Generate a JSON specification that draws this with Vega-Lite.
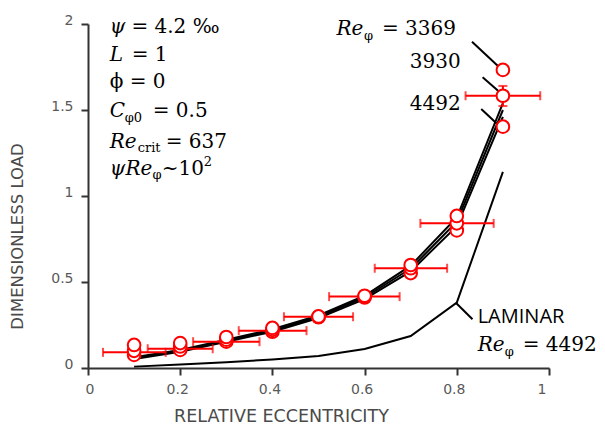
{
  "$schema": "https://vega.github.io/schema/vega-lite/v6.json",
  "width": 461,
  "height": 344,
  "autosize": {"type": "none"},
  "padding": {"left": 88, "top": 24, "right": 56, "bottom": 57},
  "background": "white",
  "config": {
    "view": {"stroke": null},
    "axis": {
      "grid": false,
      "domainColor": "#333333",
      "domainWidth": 2,
      "tickColor": "#333333",
      "tickWidth": 2,
      "tickSize": 7,
      "labelFont": "DejaVu Sans",
      "labelFontSize": 14,
      "labelColor": "#595959",
      "titleFont": "DejaVu Sans",
      "titleFontSize": 16.5,
      "titleFontWeight": "normal",
      "titleColor": "#4a4a4a"
    }
  },
  "datasets": {
    "curves": [
      {"x": 0.1, "y": 0.062, "s": "A"}, {"x": 0.2, "y": 0.105, "s": "A"}, {"x": 0.3, "y": 0.165, "s": "A"},
      {"x": 0.4, "y": 0.225, "s": "A"}, {"x": 0.5, "y": 0.305, "s": "A"}, {"x": 0.6, "y": 0.42, "s": "A"},
      {"x": 0.7, "y": 0.595, "s": "A"}, {"x": 0.8, "y": 0.875, "s": "A"}, {"x": 0.9, "y": 1.54, "s": "A"},
      {"x": 0.1, "y": 0.057, "s": "B"}, {"x": 0.2, "y": 0.1, "s": "B"}, {"x": 0.3, "y": 0.158, "s": "B"},
      {"x": 0.4, "y": 0.218, "s": "B"}, {"x": 0.5, "y": 0.298, "s": "B"}, {"x": 0.6, "y": 0.41, "s": "B"},
      {"x": 0.7, "y": 0.578, "s": "B"}, {"x": 0.8, "y": 0.85, "s": "B"}, {"x": 0.9, "y": 1.5, "s": "B"},
      {"x": 0.1, "y": 0.052, "s": "C"}, {"x": 0.2, "y": 0.095, "s": "C"}, {"x": 0.3, "y": 0.152, "s": "C"},
      {"x": 0.4, "y": 0.211, "s": "C"}, {"x": 0.5, "y": 0.29, "s": "C"}, {"x": 0.6, "y": 0.4, "s": "C"},
      {"x": 0.7, "y": 0.562, "s": "C"}, {"x": 0.8, "y": 0.825, "s": "C"}, {"x": 0.9, "y": 1.46, "s": "C"},
      {"x": 0.1, "y": 0.008, "s": "Laminar"}, {"x": 0.2, "y": 0.021, "s": "Laminar"}, {"x": 0.3, "y": 0.033, "s": "Laminar"},
      {"x": 0.4, "y": 0.05, "s": "Laminar"}, {"x": 0.5, "y": 0.07, "s": "Laminar"}, {"x": 0.6, "y": 0.11, "s": "Laminar"},
      {"x": 0.7, "y": 0.186, "s": "Laminar"}, {"x": 0.8, "y": 0.38, "s": "Laminar"}, {"x": 0.9, "y": 1.14, "s": "Laminar"}
    ],
    "points": [
      {"x": 0.1, "y": 0.076, "re": "4492"}, {"x": 0.2, "y": 0.105, "re": "4492"}, {"x": 0.3, "y": 0.153, "re": "4492"},
      {"x": 0.4, "y": 0.211, "re": "4492"}, {"x": 0.5, "y": 0.295, "re": "4492"}, {"x": 0.6, "y": 0.41, "re": "4492"},
      {"x": 0.7, "y": 0.552, "re": "4492"}, {"x": 0.8, "y": 0.8, "re": "4492"}, {"x": 0.9, "y": 1.403, "re": "4492"},
      {"x": 0.1, "y": 0.1, "re": "3930"}, {"x": 0.2, "y": 0.125, "re": "3930"}, {"x": 0.3, "y": 0.165, "re": "3930"},
      {"x": 0.4, "y": 0.222, "re": "3930"}, {"x": 0.5, "y": 0.298, "re": "3930"}, {"x": 0.6, "y": 0.415, "re": "3930"},
      {"x": 0.7, "y": 0.58, "re": "3930"}, {"x": 0.8, "y": 0.841, "re": "3930"}, {"x": 0.9, "y": 1.583, "re": "3930"},
      {"x": 0.1, "y": 0.134, "re": "3369"}, {"x": 0.2, "y": 0.145, "re": "3369"}, {"x": 0.3, "y": 0.18, "re": "3369"},
      {"x": 0.4, "y": 0.233, "re": "3369"}, {"x": 0.5, "y": 0.3, "re": "3369"}, {"x": 0.6, "y": 0.42, "re": "3369"},
      {"x": 0.7, "y": 0.599, "re": "3369"}, {"x": 0.8, "y": 0.884, "re": "3369"}, {"x": 0.9, "y": 1.733, "re": "3369"}
    ],
    "errx": [
      {"y": 0.091, "lo": 0.0325, "hi": 0.1685},
      {"y": 0.112, "lo": 0.1295, "hi": 0.2705},
      {"y": 0.153, "lo": 0.228, "hi": 0.372},
      {"y": 0.217, "lo": 0.327, "hi": 0.474},
      {"y": 0.298, "lo": 0.425, "hi": 0.575},
      {"y": 0.415, "lo": 0.523, "hi": 0.676},
      {"y": 0.58, "lo": 0.622, "hi": 0.779},
      {"y": 0.841, "lo": 0.721, "hi": 0.88},
      {"y": 1.583, "lo": 0.819, "hi": 0.981}
    ],
    "erry": [{"x": 0.9, "lo": 1.523, "hi": 1.64}],
    "leaders": [
      {"x": 0.833, "y": 1.897, "x2": 0.891, "y2": 1.752},
      {"x": 0.856, "y": 1.69, "x2": 0.892, "y2": 1.606},
      {"x": 0.853, "y": 1.506, "x2": 0.886, "y2": 1.423},
      {"x": 0.799, "y": 0.376, "x2": 0.834, "y2": 0.283}
    ],
    "italic": [
      {"x": 0.0471, "y": 1.946, "label": "ψ"},
      {"x": 0.0471, "y": 1.785, "label": "L"},
      {"x": 0.0471, "y": 1.461, "label": "C"},
      {"x": 0.0471, "y": 1.277, "label": "Re"},
      {"x": 0.0471, "y": 1.122, "label": "ψRe"},
      {"x": 0.5389, "y": 1.936, "label": "Re"},
      {"x": 0.8453, "y": 0.1006, "label": "Re"}
    ],
    "upright": [
      {"x": 0.0941, "y": 1.946, "label": "= 4.2 ‰"},
      {"x": 0.0948, "y": 1.785, "label": "= 1"},
      {"x": 0.0471, "y": 1.626, "label": "ϕ = 0"},
      {"x": 0.1403, "y": 1.461, "label": "= 0.5"},
      {"x": 0.1685, "y": 1.277, "label": "= 637"},
      {"x": 0.1602, "y": 1.122, "label": "~10"},
      {"x": 0.6375, "y": 1.936, "label": "= 3369"},
      {"x": 0.6979, "y": 1.742, "label": "3930"},
      {"x": 0.6979, "y": 1.5, "label": "4492"},
      {"x": 0.943, "y": 0.1006, "label": "= 4492"}
    ],
    "small": [
      {"x": 0.0796, "y": 1.43, "label": "φ0"},
      {"x": 0.1078, "y": 1.256, "label": "crit"},
      {"x": 0.140, "y": 1.099, "label": "φ"},
      {"x": 0.251, "y": 1.174, "label": "2"},
      {"x": 0.5985, "y": 1.907, "label": "φ"},
      {"x": 0.9039, "y": 0.0698, "label": "φ"}
    ],
    "sans": [
      {"x": 0.8453, "y": 0.26, "label": "LAMINAR"}
    ]
  },
  "layer": [
    {
      "data": {"name": "curves"},
      "mark": {"type": "line", "color": "black", "strokeWidth": 2},
      "encoding": {
        "x": {"field": "x", "type": "quantitative", "scale": {"domain": [0, 1], "nice": false},
          "axis": {"values": [0, 0.2, 0.4, 0.6, 0.8, 1], "format": "~g", "title": "RELATIVE ECCENTRICITY",
            "labelPadding": 7, "labelOffset": -3, "titleFontSize": 17.5, "titleX": 193, "titleY": 53, "titleAlign": "center", "titleBaseline": "alphabetic"}},
        "y": {"field": "y", "type": "quantitative", "scale": {"domain": [0, 2], "nice": false},
          "axis": {"values": [0, 0.5, 1, 1.5, 2], "format": "~g", "title": "DIMENSIONLESS LOAD",
            "labelPadding": 8, "labelBaseline": "alphabetic", "titleX": -71, "titleY": 212, "titleAlign": "center", "titleBaseline": "middle"}},
        "detail": {"field": "s"}
      }
    },
    {
      "data": {"name": "leaders"},
      "mark": {"type": "rule", "color": "black", "strokeWidth": 2},
      "encoding": {
        "x": {"field": "x", "type": "quantitative"},
        "y": {"field": "y", "type": "quantitative"},
        "x2": {"field": "x2"},
        "y2": {"field": "y2"}
      }
    },
    {
      "data": {"name": "errx"},
      "mark": {"type": "rule", "color": "#ff0000", "strokeWidth": 2},
      "encoding": {
        "x": {"field": "lo", "type": "quantitative"},
        "x2": {"field": "hi"},
        "y": {"field": "y", "type": "quantitative"}
      }
    },
    {
      "data": {"name": "errx"},
      "mark": {"type": "tick", "color": "#ff0000", "orient": "vertical", "size": 9, "thickness": 2},
      "encoding": {
        "x": {"field": "lo", "type": "quantitative"},
        "y": {"field": "y", "type": "quantitative"}
      }
    },
    {
      "data": {"name": "errx"},
      "mark": {"type": "tick", "color": "#ff0000", "orient": "vertical", "size": 9, "thickness": 2},
      "encoding": {
        "x": {"field": "hi", "type": "quantitative"},
        "y": {"field": "y", "type": "quantitative"}
      }
    },
    {
      "data": {"name": "erry"},
      "mark": {"type": "rule", "color": "#ff0000", "strokeWidth": 2},
      "encoding": {
        "x": {"field": "x", "type": "quantitative"},
        "y": {"field": "lo", "type": "quantitative"},
        "y2": {"field": "hi"}
      }
    },
    {
      "data": {"name": "erry"},
      "mark": {"type": "tick", "color": "#ff0000", "orient": "horizontal", "size": 9, "thickness": 2},
      "encoding": {
        "x": {"field": "x", "type": "quantitative"},
        "y": {"field": "lo", "type": "quantitative"}
      }
    },
    {
      "data": {"name": "erry"},
      "mark": {"type": "tick", "color": "#ff0000", "orient": "horizontal", "size": 9, "thickness": 2},
      "encoding": {
        "x": {"field": "x", "type": "quantitative"},
        "y": {"field": "hi", "type": "quantitative"}
      }
    },
    {
      "data": {"name": "points"},
      "mark": {"type": "point", "shape": "circle", "filled": false, "fill": "white", "fillOpacity": 1, "stroke": "#ff0000", "strokeWidth": 2, "size": 160, "opacity": 1},
      "encoding": {
        "x": {"field": "x", "type": "quantitative"},
        "y": {"field": "y", "type": "quantitative"}
      }
    },
    {
      "data": {"name": "italic"},
      "mark": {"type": "text", "font": "DejaVu Serif", "fontStyle": "italic", "fontSize": 20, "align": "left", "baseline": "alphabetic", "color": "black"},
      "encoding": {
        "x": {"field": "x", "type": "quantitative"},
        "y": {"field": "y", "type": "quantitative"},
        "text": {"field": "label"}
      }
    },
    {
      "data": {"name": "upright"},
      "mark": {"type": "text", "font": "DejaVu Serif", "fontSize": 20, "align": "left", "baseline": "alphabetic", "color": "black"},
      "encoding": {
        "x": {"field": "x", "type": "quantitative"},
        "y": {"field": "y", "type": "quantitative"},
        "text": {"field": "label"}
      }
    },
    {
      "data": {"name": "small"},
      "mark": {"type": "text", "font": "DejaVu Serif", "fontSize": 13, "align": "left", "baseline": "alphabetic", "color": "black"},
      "encoding": {
        "x": {"field": "x", "type": "quantitative"},
        "y": {"field": "y", "type": "quantitative"},
        "text": {"field": "label"}
      }
    },
    {
      "data": {"name": "sans"},
      "mark": {"type": "text", "font": "Open Sans", "fontSize": 20, "align": "left", "baseline": "alphabetic", "color": "black"},
      "encoding": {
        "x": {"field": "x", "type": "quantitative"},
        "y": {"field": "y", "type": "quantitative"},
        "text": {"field": "label"}
      }
    }
  ]
}
